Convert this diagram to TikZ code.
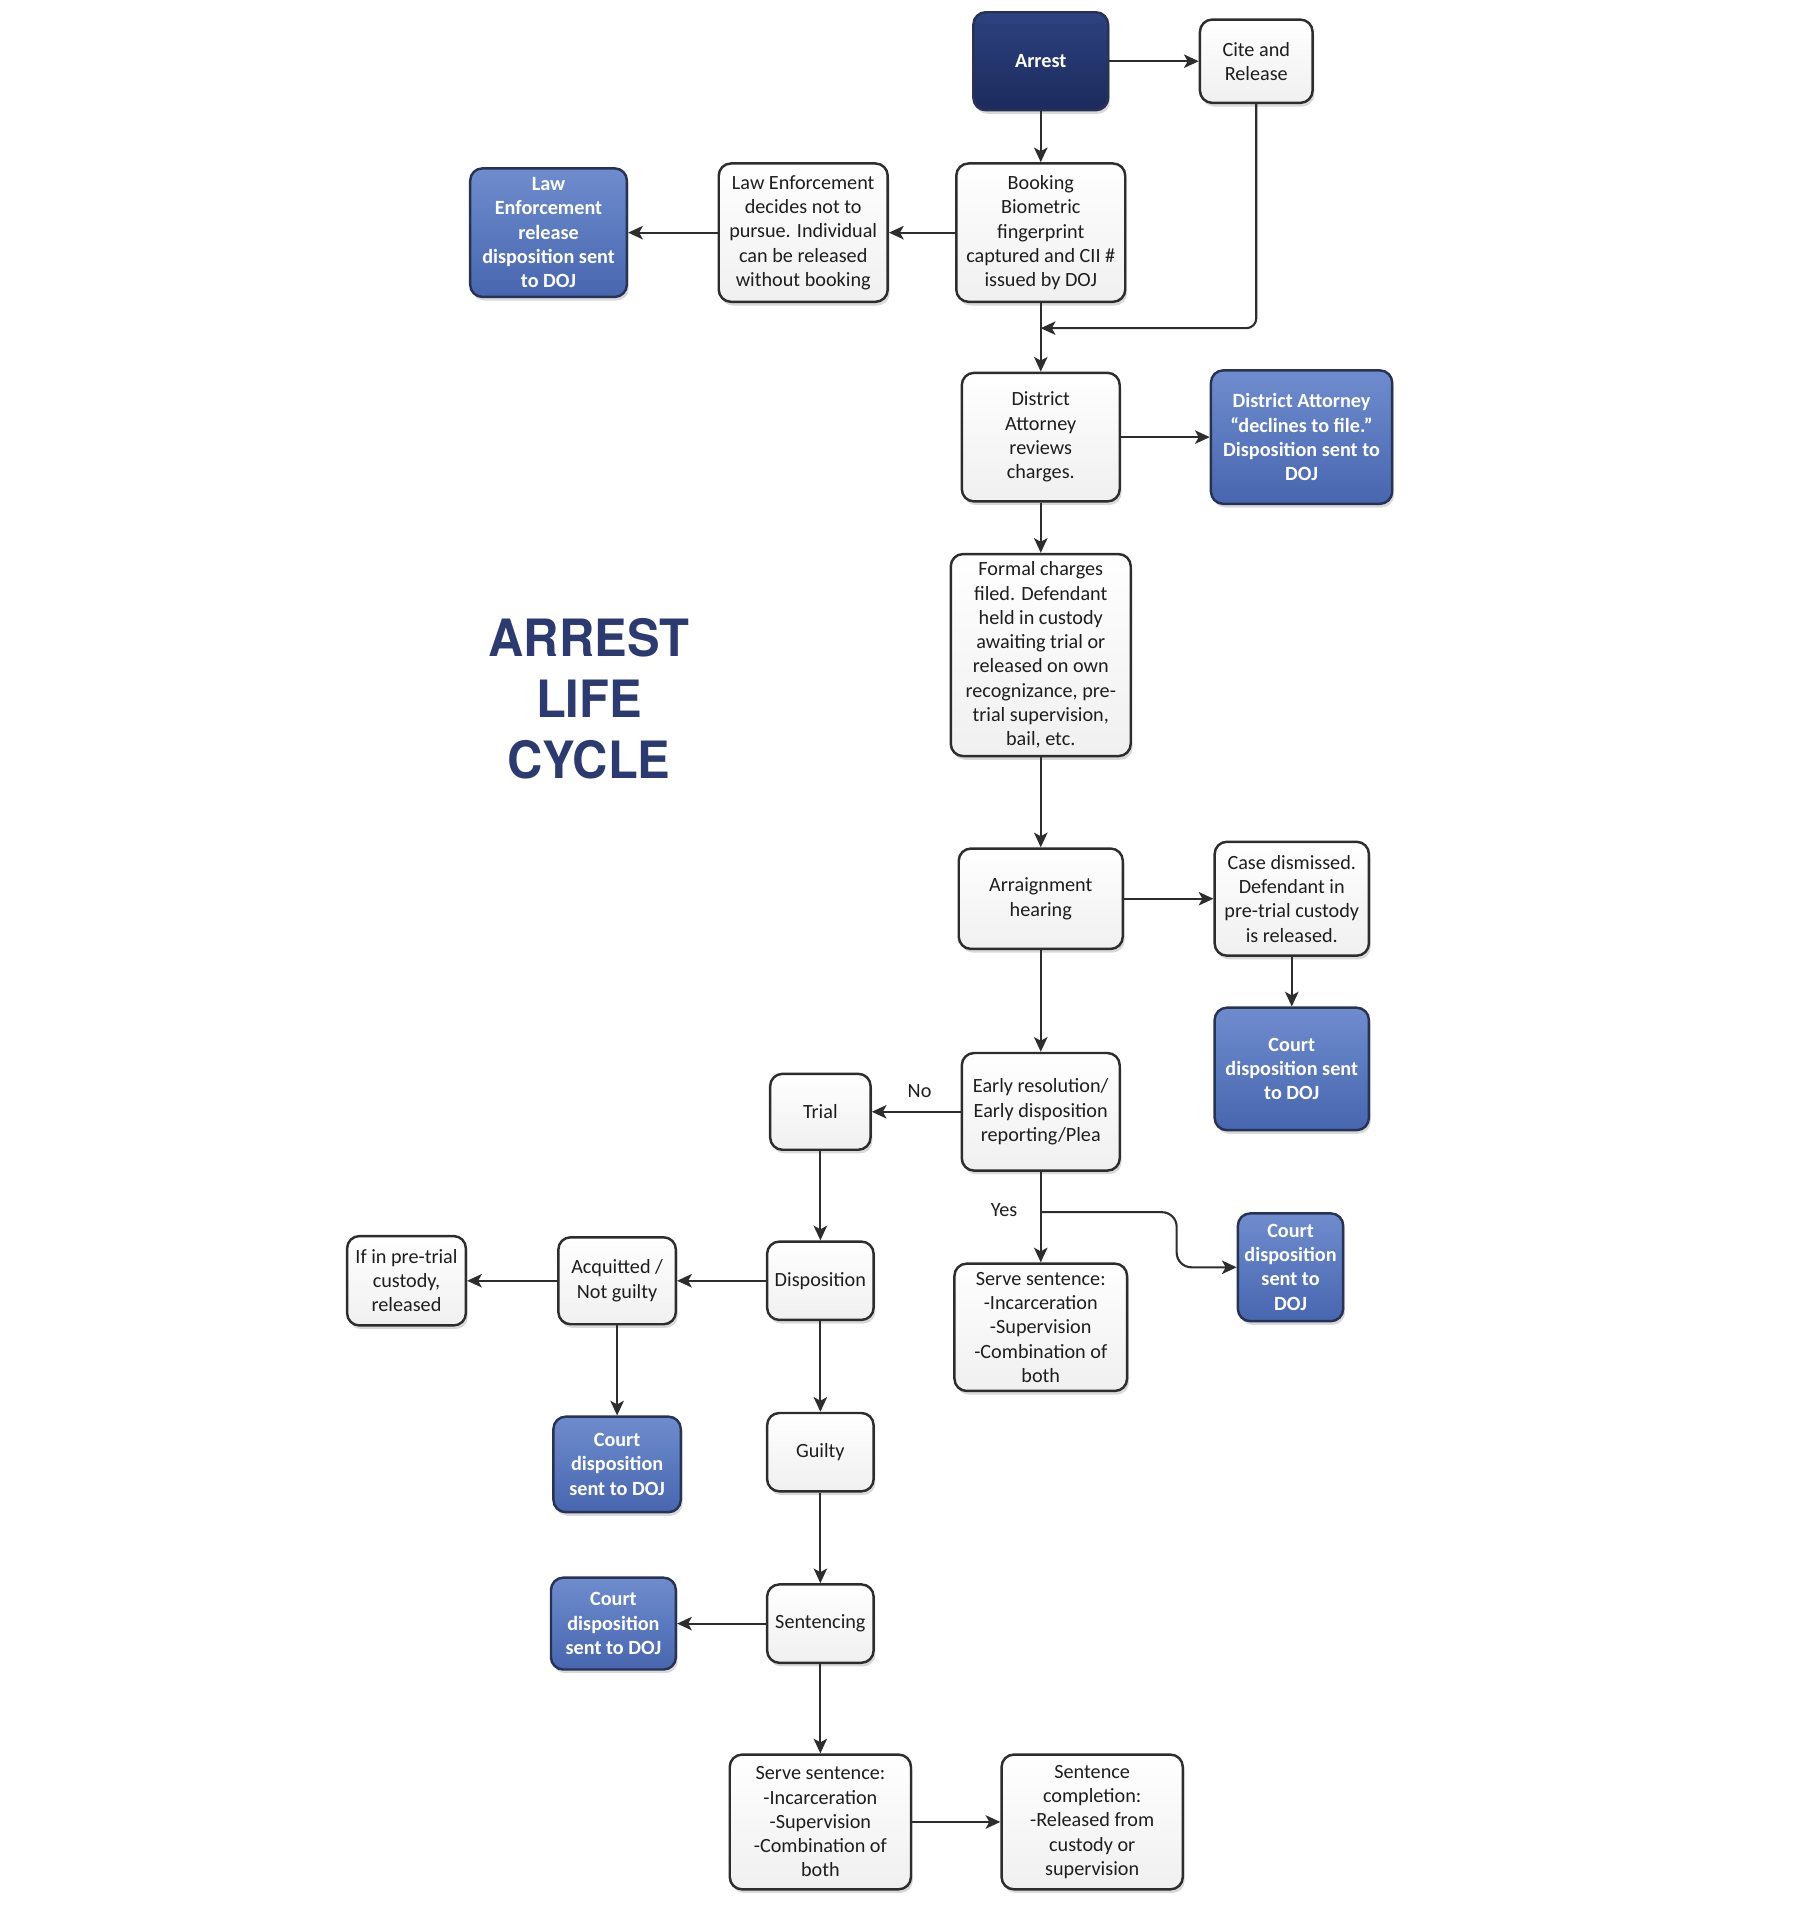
\documentclass[tikz,border=0pt]{standalone}
\usepackage{fontspec}
\setmainfont{Carlito}
\newfontfamily\titlefont{TeX Gyre Heros}
\usetikzlibrary{arrows.meta,shadows,calc}
\definecolor{edgegray}{RGB}{45,45,45}
\definecolor{txtgray}{RGB}{30,30,30}
\definecolor{bluetop}{RGB}{110,140,205}
\definecolor{bluebot}{RGB}{72,102,175}
\definecolor{blueedge}{RGB}{40,50,85}
\definecolor{navytop}{RGB}{45,66,128}
\definecolor{navybot}{RGB}{28,42,92}
\definecolor{titleblue}{RGB}{43,58,112}
\begin{document}
\begin{tikzpicture}[x=1pt,y=1pt,
  every node/.style={font=\fontsize{16.5}{19.8}\selectfont, text=txtgray},
  basebox/.style={rounded corners=10pt, line width=2pt, align=center, inner sep=0pt,
    drop shadow={shadow xshift=1.5pt, shadow yshift=-3pt, opacity=0.3}},
  wbox/.style={basebox, draw=edgegray, top color=white, bottom color=black!6},
  bbox/.style={basebox, draw=blueedge, top color=bluetop, bottom color=bluebot,
    text=white, font=\fontsize{16.5}{19.8}\selectfont\bfseries},
  nbox/.style={basebox, draw=blueedge, top color=navytop, bottom color=navybot,
    text=white, font=\fontsize{16.5}{19.8}\selectfont\bfseries},
  arr/.style={draw=edgegray, line width=1.7pt, -{Stealth[length=12pt,width=11pt,inset=3pt]}},
  lbl/.style={font=\fontsize{16.5}{19.8}\selectfont}
]
\useasboundingbox (0,0) rectangle (1470,-1564);

% title
\node[text=titleblue, align=center, inner sep=0pt] (title) at (481,-576)
  {\scalebox{0.95}[1]{\titlefont\bfseries\fontsize{42}{50}\selectfont
   \begin{tabular}{@{}c@{}}ARREST\\LIFE\\CYCLE\end{tabular}}};

% nodes
\node[nbox, minimum width=110pt, minimum height=80pt] (arrest) at (850,-50) {Arrest};
\node[wbox, minimum width=92pt, minimum height=68pt] (cite) at (1026,-50) {Cite and\\Release};
\node[wbox, minimum width=138pt, minimum height=113pt] (booking) at (850,-190)
  {Booking\\Biometric\\fingerprint\\captured and CII \#\\issued by DOJ};
\node[wbox, minimum width=138pt, minimum height=113pt] (lenf) at (656,-190)
  {Law Enforcement\\decides not to\\pursue. Individual\\can be released\\without booking};
\node[bbox, minimum width=128pt, minimum height=105pt] (lerel) at (448,-190)
  {Law\\Enforcement\\release\\disposition sent\\to DOJ};
\node[wbox, minimum width=129pt, minimum height=105pt] (dareview) at (850,-357)
  {District\\Attorney\\reviews\\charges.};
\node[bbox, minimum width=148pt, minimum height=109pt] (dadecl) at (1063,-357)
  {District Attorney\\“declines to file.”\\Disposition sent to\\DOJ};
\node[wbox, minimum width=147pt, minimum height=165pt] (formal) at (850,-535)
  {Formal charges\\filed. Defendant\\held in custody\\awaiting trial or\\released on own\\recognizance, pre-\\trial supervision,\\bail, etc.};
\node[wbox, minimum width=134pt, minimum height=82pt] (arraign) at (850,-734)
  {Arraignment\\hearing};
\node[wbox, minimum width=126pt, minimum height=93pt] (dismiss) at (1055,-734)
  {Case dismissed.\\Defendant in\\pre-trial custody\\is released.};
\node[bbox, minimum width=126pt, minimum height=100pt] (cdA) at (1055,-873)
  {Court\\disposition sent\\to DOJ};
\node[wbox, minimum width=129pt, minimum height=96pt] (early) at (850,-908)
  {Early resolution/\\Early disposition\\reporting/Plea};
\node[wbox, minimum width=82pt, minimum height=62pt] (trial) at (670,-908) {Trial};
\node[bbox, minimum width=86pt, minimum height=88pt] (cdB) at (1054,-1035)
  {Court\\disposition\\sent to\\DOJ};
\node[wbox, minimum width=141pt, minimum height=104pt] (serveA) at (850,-1084)
  {Serve sentence:\\-Incarceration\\-Supervision\\-Combination of\\both};
\node[wbox, minimum width=87pt, minimum height=64pt] (dispo) at (670,-1046) {Disposition};
\node[wbox, minimum width=96pt, minimum height=71pt] (acq) at (504,-1046)
  {Acquitted /\\Not guilty};
\node[wbox, minimum width=97pt, minimum height=73pt] (ifin) at (332,-1046)
  {If in pre-trial\\custody,\\released};
\node[bbox, minimum width=104pt, minimum height=78pt] (cdC) at (504,-1196)
  {Court\\disposition\\sent to DOJ};
\node[wbox, minimum width=87pt, minimum height=64pt] (guilty) at (670,-1186) {Guilty};
\node[wbox, minimum width=87pt, minimum height=64pt] (sentencing) at (670,-1326) {Sentencing};
\node[bbox, minimum width=102pt, minimum height=75pt] (cdD) at (501,-1326)
  {Court\\disposition\\sent to DOJ};
\node[wbox, minimum width=148pt, minimum height=110pt] (serveB) at (670,-1488)
  {Serve sentence:\\-Incarceration\\-Supervision\\-Combination of\\both};
\node[wbox, minimum width=148pt, minimum height=110pt] (complete) at (892,-1488)
  {Sentence\\completion:\\-Released from\\custody or\\supervision};

% helper coordinates
\coordinate (join) at (850,-268);
\coordinate (yesj) at (850,-990);

% connectors
\draw[arr] (arrest.east) -- (cite.west);
\draw[arr] (arrest.south) -- (booking.north);
\draw[arr] (booking.west) -- (lenf.east);
\draw[arr] (lenf.west) -- (lerel.east);
\draw[arr] (booking.south) -- (dareview.north);
\draw[arr, rounded corners=8pt] (cite.south) |- (join);
\draw[arr] (dareview.east) -- (dadecl.west);
\draw[arr] (dareview.south) -- (formal.north);
\draw[arr] (formal.south) -- (arraign.north);
\draw[arr] (arraign.east) -- (dismiss.west);
\draw[arr] (dismiss.south) -- (cdA.north);
\draw[arr] (arraign.south) -- (early.north);
\draw[arr] (early.west) -- (trial.east);
\draw[arr] (early.south) -- (serveA.north);
\draw[arr, rounded corners=12pt] (yesj) -- ++(111,0) |- (cdB.west);
\draw[arr] (trial.south) -- (dispo.north);
\draw[arr] (dispo.west) -- (acq.east);
\draw[arr] (acq.west) -- (ifin.east);
\draw[arr] (acq.south) -- (cdC.north);
\draw[arr] (dispo.south) -- (guilty.north);
\draw[arr] (guilty.south) -- (sentencing.north);
\draw[arr] (sentencing.west) -- (cdD.east);
\draw[arr] (sentencing.south) -- (serveB.north);
\draw[arr] (serveB.east) -- (complete.west);

% labels
\node[lbl] (no) at (751,-891) {No};
\node[lbl] (yes) at (820,-988) {Yes};
\end{tikzpicture}
\end{document}
